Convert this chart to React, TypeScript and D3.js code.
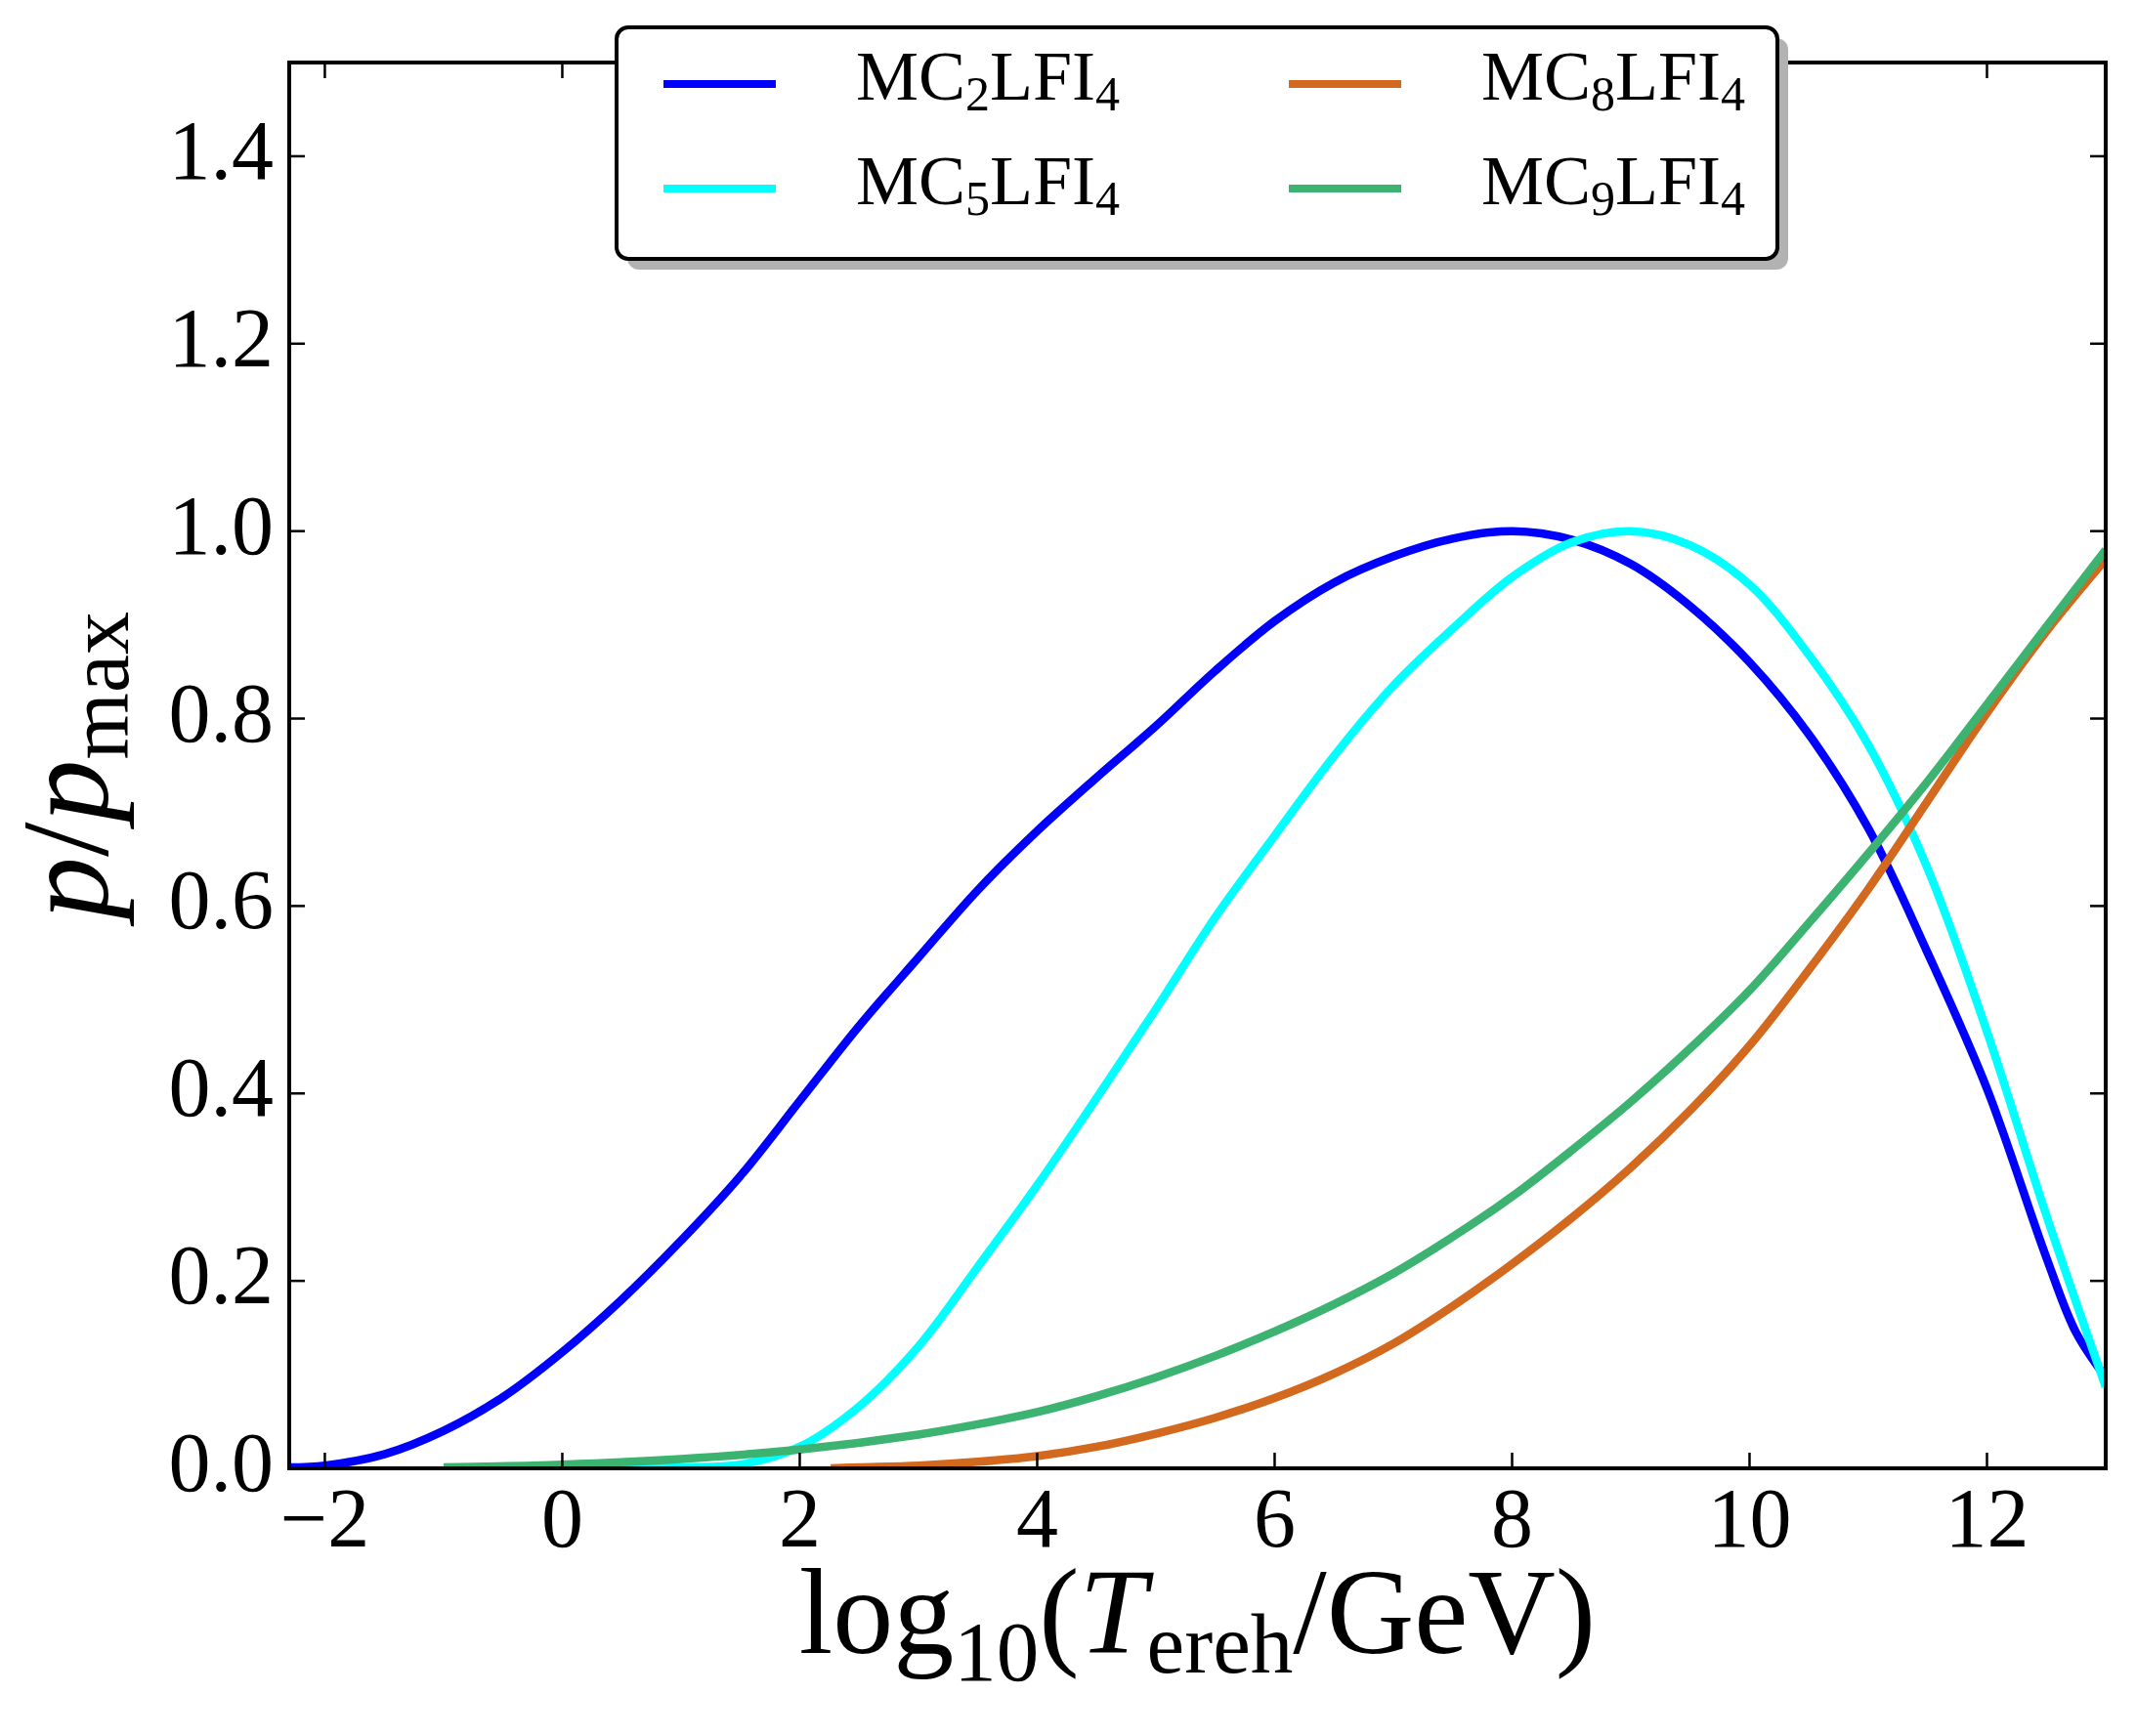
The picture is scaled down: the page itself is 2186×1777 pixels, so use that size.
import React, { useRef, useEffect } from 'react';
import * as d3 from 'd3';

// values: [log10(T_ereh/GeV), p/p_max]
const mc2lfi4: [number, number][] = [
  [-2.3, 0.001], [-2.0, 0.003], [-1.5, 0.015], [-1.0, 0.04], [-0.5, 0.076],
  [0.0, 0.124], [0.5, 0.18], [1.0, 0.243], [1.5, 0.312], [2.0, 0.392],
  [2.5, 0.472], [3.0, 0.545], [3.5, 0.617], [4.0, 0.68], [4.5, 0.737],
  [5.0, 0.792], [5.5, 0.851], [6.0, 0.904], [6.5, 0.945], [7.0, 0.973],
  [7.5, 0.992], [8.0, 1.0], [8.5, 0.991], [9.0, 0.965], [9.5, 0.92],
  [10.0, 0.86], [10.5, 0.783], [11.0, 0.683], [11.5, 0.55], [12.0, 0.405],
  [12.5, 0.225], [12.75, 0.145], [13.0, 0.097],
];

const mc5lfi4: [number, number][] = [
  [-1.0, 0.0], [0.0, 0.0005], [1.0, 0.001], [1.5, 0.004], [2.0, 0.023],
  [2.5, 0.066], [3.0, 0.13], [3.5, 0.215], [4.0, 0.302], [4.5, 0.395],
  [5.0, 0.49], [5.5, 0.588], [6.0, 0.675], [6.5, 0.76], [7.0, 0.835],
  [7.5, 0.896], [8.0, 0.951], [8.5, 0.988], [9.0, 1.0], [9.5, 0.985],
  [10.0, 0.943], [10.5, 0.868], [11.0, 0.772], [11.5, 0.64], [12.0, 0.466],
  [12.5, 0.27], [13.0, 0.087],
];

const mc8lfi4: [number, number][] = [
  [2.26, 0.0], [2.5, 0.001], [3.0, 0.003], [3.5, 0.007], [4.0, 0.013],
  [4.5, 0.023], [5.0, 0.037], [5.5, 0.054], [6.0, 0.075], [6.5, 0.101],
  [7.0, 0.133], [7.5, 0.173], [8.0, 0.218], [8.5, 0.267], [9.0, 0.321],
  [9.5, 0.382], [10.0, 0.451], [10.5, 0.532], [11.0, 0.618], [11.5, 0.712],
  [12.0, 0.806], [12.5, 0.893], [13.0, 0.97],
];

const mc9lfi4: [number, number][] = [
  [-1.0, 0.001], [0.0, 0.004], [1.0, 0.01], [2.0, 0.02], [3.0, 0.036],
  [3.5, 0.047], [4.0, 0.06], [4.5, 0.077], [5.0, 0.097], [5.5, 0.12],
  [6.0, 0.146], [6.5, 0.175], [7.0, 0.208], [7.5, 0.247], [8.0, 0.29],
  [8.5, 0.339], [9.0, 0.391], [9.5, 0.448], [10.0, 0.51], [10.5, 0.582],
  [11.0, 0.656], [11.5, 0.733], [12.0, 0.815], [12.5, 0.898], [13.0, 0.98],
];

// legend order is column-wise: MC2, MC5 | MC8, MC9
const seriesData = [mc2lfi4, mc5lfi4, mc8lfi4, mc9lfi4];
const seriesSubs = ['2', '5', '8', '9'];
const seriesColors = ['#0000ff', '#00ffff', '#d2691e', '#3cb371'];

const xDomain: [number, number] = [-2.3, 13];
const yDomain: [number, number] = [0, 1.5];

const FONT = "'Liberation Serif', 'DejaVu Serif', serif";

const App = () => {
  const ref = useRef<SVGSVGElement>(null);

  useEffect(() => {
    if (!ref.current) return;
    const width = 2186;
    const height = 1777;
    const margin = { top: 64, right: 31, bottom: 274, left: 296 };
    const x0 = margin.left, x1 = width - margin.right;
    const y0 = height - margin.bottom, y1 = margin.top;

    const svg = d3.select(ref.current);
    svg.selectAll('*').remove();

    const x = d3.scaleLinear().domain(xDomain).range([x0, x1]);
    const y = d3.scaleLinear().domain(yDomain).range([y0, y1]);

    svg.append('defs').append('clipPath').attr('id', 'plot-clip')
      .append('rect')
      .attr('x', x0).attr('y', y1).attr('width', x1 - x0).attr('height', y0 - y1);

    // curves
    const line = d3.line<[number, number]>()
      .x(d => x(d[0]))
      .y(d => y(d[1]))
      .curve(d3.curveCatmullRom.alpha(0.5));

    const lines = svg.append('g').attr('clip-path', 'url(#plot-clip)');
    seriesData.forEach((data, i) => {
      lines.append('path')
        .datum(data)
        .attr('d', line)
        .attr('fill', 'none')
        .attr('stroke', seriesColors[i])
        .attr('stroke-width', 8.5)
        .attr('stroke-linejoin', 'round');
    });

    // frame
    svg.append('rect')
      .attr('x', x0).attr('y', y1)
      .attr('width', x1 - x0).attr('height', y0 - y1)
      .attr('fill', 'none')
      .attr('stroke', 'black')
      .attr('stroke-width', 4);

    // ticks, pointing inward on all four sides
    const tickLen = 16;
    const xTicks = x.ticks(8);
    const yTicks = y.ticks(8);
    const ticks = svg.append('g').attr('stroke', 'black').attr('stroke-width', 2.5);
    xTicks.forEach(t => {
      ticks.append('line').attr('x1', x(t)).attr('x2', x(t)).attr('y1', y0).attr('y2', y0 - tickLen);
      ticks.append('line').attr('x1', x(t)).attr('x2', x(t)).attr('y1', y1).attr('y2', y1 + tickLen);
    });
    yTicks.forEach(t => {
      ticks.append('line').attr('x1', x0).attr('x2', x0 + tickLen).attr('y1', y(t)).attr('y2', y(t));
      ticks.append('line').attr('x1', x1).attr('x2', x1 - tickLen).attr('y1', y(t)).attr('y2', y(t));
    });

    const fmtX = d3.format('d');
    const fmtY = d3.format('.1f');
    svg.append('g')
      .selectAll('text')
      .data(xTicks)
      .join('text')
      .attr('x', d => x(d))
      .attr('y', y0 + 80)
      .attr('text-anchor', 'middle')
      .attr('font-family', FONT)
      .attr('font-size', 86)
      .text(d => fmtX(d));

    svg.append('g')
      .selectAll('text')
      .data(yTicks)
      .join('text')
      .attr('x', x0 - 16)
      .attr('y', d => y(d) + 23)
      .attr('text-anchor', 'end')
      .attr('font-family', FONT)
      .attr('font-size', 86)
      .text(d => fmtY(d));

    // x axis label: log10(T_ereh/GeV)
    const xl = svg.append('text')
      .attr('x', (x0 + x1) / 2)
      .attr('y', 1692)
      .attr('text-anchor', 'middle')
      .attr('font-family', FONT)
      .attr('font-size', 124);
    xl.append('tspan').text('log');
    xl.append('tspan').attr('font-size', 87).attr('dy', 28).text('10');
    xl.append('tspan').attr('dy', -28).text('(');
    xl.append('tspan').attr('font-style', 'italic').text('T');
    xl.append('tspan').attr('font-size', 87).attr('dy', 20).text('ereh');
    xl.append('tspan').attr('dy', -20).text('/GeV)');

    // y axis label: p/p_max
    const yl = svg.append('text')
      .attr('transform', `translate(110, ${(y0 + y1) / 2}) rotate(-90)`)
      .attr('text-anchor', 'middle')
      .attr('font-family', FONT)
      .attr('font-size', 128);
    yl.append('tspan').attr('font-style', 'italic').text('p');
    yl.append('tspan').text('/');
    yl.append('tspan').attr('font-style', 'italic').text('p');
    yl.append('tspan').attr('font-size', 88).attr('dy', 21).text('max');

    // legend
    const lg = { x: 631, y: 28, w: 1188, h: 237, r: 12 };
    const legend = svg.append('g');
    legend.append('rect')
      .attr('x', lg.x + 11).attr('y', lg.y + 11)
      .attr('width', lg.w).attr('height', lg.h)
      .attr('rx', lg.r)
      .attr('fill', '#b2b2b2');
    legend.append('rect')
      .attr('x', lg.x).attr('y', lg.y)
      .attr('width', lg.w).attr('height', lg.h)
      .attr('rx', lg.r)
      .attr('fill', 'white')
      .attr('stroke', 'black')
      .attr('stroke-width', 4);

    const colX = [679, 1319];
    const rowY = [86, 193];
    seriesSubs.forEach((sub, i) => {
      const cx = colX[Math.floor(i / 2)];
      const cy = rowY[i % 2];
      legend.append('line')
        .attr('x1', cx).attr('x2', cx + 115)
        .attr('y1', cy).attr('y2', cy)
        .attr('stroke', seriesColors[i])
        .attr('stroke-width', 8);
      const t = legend.append('text')
        .attr('x', cx + 197)
        .attr('y', cy + 16)
        .attr('font-family', FONT)
        .attr('font-size', 72);
      t.append('tspan').text('MC');
      t.append('tspan').attr('font-size', 50).attr('dy', 11).text(sub);
      t.append('tspan').attr('dy', -11).text('LFI');
      t.append('tspan').attr('font-size', 50).attr('dy', 11).text('4');
    });
  }, []);

  return (
    <div style={{ position: 'absolute', left: 0, top: 0 }}>
      <svg ref={ref} width={2186} height={1777} style={{ display: 'block', background: 'white' }} />
    </div>
  );
};

export default App;
